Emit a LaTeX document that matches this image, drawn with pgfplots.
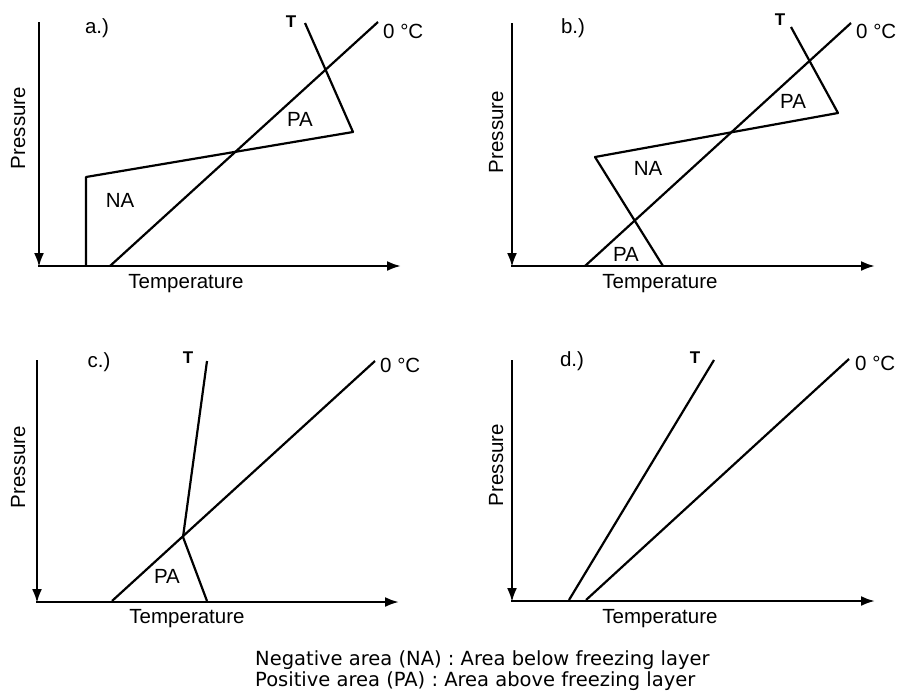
\documentclass[border=0pt]{standalone}
\usepackage{pgfplots}
\pgfplotsset{compat=1.18}
\usepackage{fontspec}
\setmainfont{Liberation Sans}
\newfontfamily\capfont{DejaVu Sans}
\usetikzlibrary{arrows.meta}
\begin{document}
\begin{tikzpicture}
\useasboundingbox (0,0) rectangle (903pt,694pt);
\begin{axis}[at={(0,0)}, anchor=south west, scale only axis,
  width=903pt, height=694pt, xmin=0, xmax=903, ymin=0, ymax=694,
  y dir=reverse, hide axis, clip=false]
\pgfplotsset{ax/.style={black, line width=2.4pt, -{Latex[length=14pt,width=10pt]}},
  ln/.style={black, line width=2.2pt, line join=round, mark=none}}
% ---------- axes (arrows) ----------
% panel a
\addplot[ax] coordinates {(39,22) (39,267)};
\addplot[ax] coordinates {(38,266) (401,266)};
% panel b
\addplot[ax] coordinates {(512,23) (512,267)};
\addplot[ax] coordinates {(511,266) (875,266)};
% panel c
\addplot[ax] coordinates {(37,360) (37,603)};
\addplot[ax] coordinates {(36,602) (399,602)};
% panel d
\addplot[ax] coordinates {(512,360) (512,602)};
\addplot[ax] coordinates {(511,601) (875,601)};
% ---------- curves ----------
% a
\addplot[ln] coordinates {(110,266) (378,22)};
\addplot[ln] coordinates {(86,266) (86,177) (353,132) (305,23)};
% b
\addplot[ln] coordinates {(585,266) (851,23)};
\addplot[ln] coordinates {(663,266) (595,157) (838,113) (791,27)};
% c
\addplot[ln] coordinates {(112,601) (375,361)};
\addplot[ln] coordinates {(207,601) (183,537) (207,361)};
% d
\addplot[ln] coordinates {(586,600) (849,359)};
\addplot[ln] coordinates {(569,600) (714,360)};
% ---------- labels ----------
\tikzset{lab/.style={font=\fontsize{20.5}{24}\selectfont, inner sep=0pt},
  tl/.style={font=\fontsize{17}{20}\selectfont\bfseries, inner sep=0pt, anchor=base}}
% panel letters
\node[lab, anchor=base] at (axis cs:97,33) {a.)};
\node[lab, anchor=base] at (axis cs:573,33) {b.)};
\node[lab, anchor=base] at (axis cs:99,367) {c.)};
\node[lab, anchor=base] at (axis cs:572,366) {d.)};
% T labels
\node[tl] at (axis cs:291,27) {T};
\node[tl] at (axis cs:780,25) {T};
\node[tl] at (axis cs:188,363) {T};
\node[tl] at (axis cs:695,363) {T};
% 0 C labels
\node[lab, anchor=base west] at (axis cs:383,38) {0 °C};
\node[lab, anchor=base west] at (axis cs:856,38) {0 °C};
\node[lab, anchor=base west] at (axis cs:380,372) {0 °C};
\node[lab, anchor=base west] at (axis cs:855,370) {0 °C};
% areas
\node[lab, anchor=base] at (axis cs:300,126) {PA};
\node[lab, anchor=base] at (axis cs:120,207) {NA};
\node[lab, anchor=base] at (axis cs:793,108) {PA};
\node[lab, anchor=base] at (axis cs:648,175) {NA};
\node[lab, anchor=base] at (axis cs:626,261) {PA};
\node[lab, anchor=base] at (axis cs:167,583) {PA};
% axis titles
\node[lab, anchor=base] at (axis cs:186,288) {Temperature};
\node[lab, anchor=base] at (axis cs:660,288) {Temperature};
\node[lab, anchor=base] at (axis cs:187,623) {Temperature};
\node[lab, anchor=base] at (axis cs:660,623) {Temperature};
\node[lab, anchor=base, rotate=90] at (axis cs:25,128) {Pressure};
\node[lab, anchor=base, rotate=90] at (axis cs:503,132) {Pressure};
\node[lab, anchor=base, rotate=90] at (axis cs:25,467) {Pressure};
\node[lab, anchor=base, rotate=90] at (axis cs:503,465) {Pressure};
% caption
\node[font=\capfont\fontsize{19.5}{22}\selectfont, inner sep=0pt, anchor=base west] at (axis cs:255,665) {Negative area (NA) : Area below freezing layer};
\node[font=\capfont\fontsize{19.5}{22}\selectfont, inner sep=0pt, anchor=base west] at (axis cs:255,686) {Positive area (PA) : Area above freezing layer};
\end{axis}
\end{tikzpicture}
\end{document}
